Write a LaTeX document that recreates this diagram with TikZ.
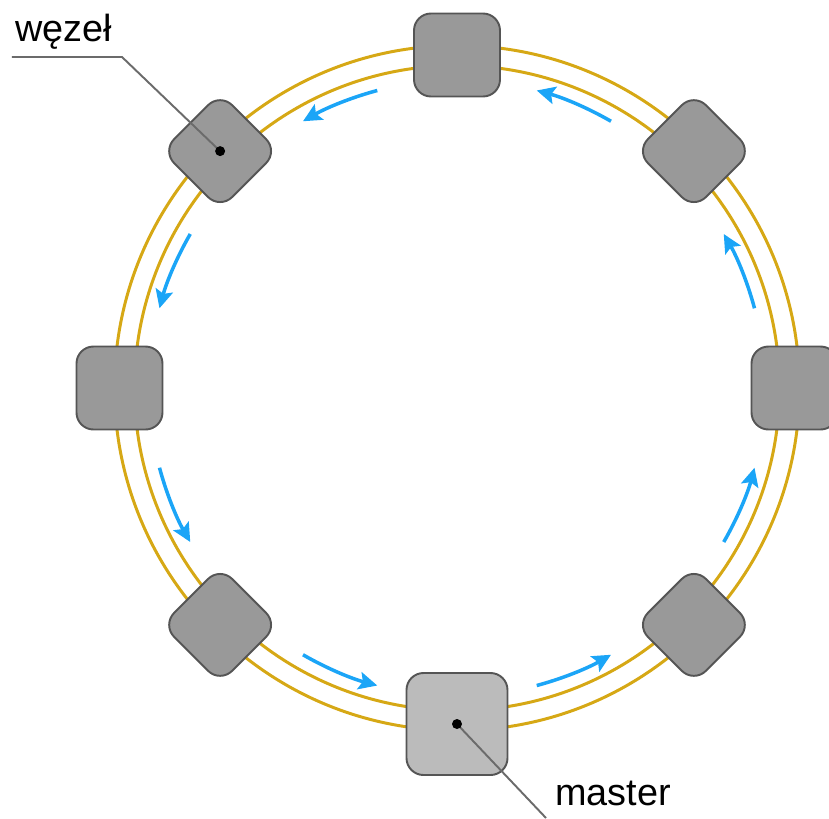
\documentclass[tikz,border=0pt]{standalone}
\usepackage{fontspec}
\setmainfont{Liberation Sans}
\usetikzlibrary{arrows.meta}
\definecolor{ringgold}{HTML}{D6A815}
\definecolor{flowblue}{HTML}{1BA5F7}
\definecolor{nodegray}{HTML}{999999}
\definecolor{mastergray}{HTML}{BBBBBB}
\definecolor{edgegray}{HTML}{555555}
\definecolor{leadgray}{HTML}{6B6B6B}

\begin{document}
\begin{tikzpicture}[
  ring/.style={ringgold, line width=1.7pt},
  station/.style={draw=edgegray, fill=nodegray, line width=1.1pt, rounded corners=0.34cm,
    minimum width=1.72cm, minimum height=1.66cm, inner sep=0pt},
  flow/.style={flowblue, line width=2pt, -{Stealth[length=10.5pt, width=10pt, inset=2pt]}},
  lead/.style={leadgray, line width=1.1pt},
  tag/.style={font=\fontsize{21.5}{26}\selectfont, text=black, inner sep=0pt}
]

  \useasboundingbox (-9.14,-8.6) rectangle (7.44,7.76);

  % Ring: two conductors
  \draw[ring] (0,0) circle[radius=6.85cm];
  \draw[ring] (0,0) circle[radius=6.45cm];

  % Direction of circulation
  \foreach \a in {22.5, 67.5, ..., 337.5}
    \draw[flow] (\a-7.5:6.16) arc[start angle=\a-7.5, end angle=\a+7.5, radius=6.16cm];

  % Nodes on the ring
  \node[station] (node0) at (0:6.75) {};
  \node[station] (node90) at (90:6.66) {};
  \node[station] (node180) at (180:6.75) {};
  \foreach \a in {45, 135, 225, 315}
    \node[station, minimum size=1.64cm, rotate=\a] (node\a) at (\a:6.7) {};
  \node[station, fill=mastergray, minimum width=2.02cm, minimum height=2.04cm] (master) at (270:6.72) {};

  % Labels with leader lines
  \node[tag, anchor=base west] (wezelText) at (-8.84, 6.92) {węzeł};
  \coordinate (wezelEnd) at (-8.9, 6.62);
  \coordinate (wezelBend) at (-6.70, 6.62);
  \draw[lead] (wezelEnd) -- (wezelBend) -- (node135.center);
  \fill (node135.center) circle (0.1);

  \node[tag, anchor=base west] (masterText) at (1.96, -8.34) {master};
  \coordinate (masterEnd) at (1.78, -8.6);
  \draw[lead] (master.center) -- (masterEnd);
  \fill (master.center) circle (0.1);

\end{tikzpicture}
\end{document}
